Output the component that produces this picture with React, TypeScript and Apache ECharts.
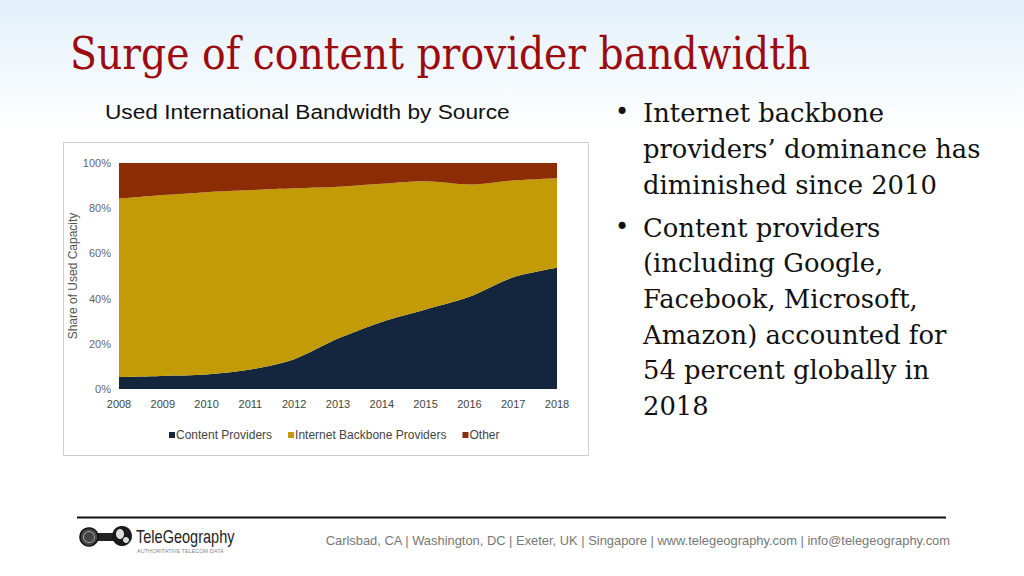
import React, { useEffect, useRef } from "react";
import * as echarts from "echarts";

const years = ["2008", "2009", "2010", "2011", "2012", "2013", "2014", "2015", "2016", "2017", "2018"];
const contentProviders = [5.3, 5.8, 6.4, 8.6, 13.2, 22.3, 29.7, 35.2, 40.8, 49.4, 53.6];
const backboneProviders = [78.9, 80.0, 80.7, 79.4, 75.6, 67.2, 61.1, 56.7, 49.7, 42.9, 39.7];
const otherSources = [15.8, 14.2, 12.9, 12.0, 11.2, 10.5, 9.2, 8.1, 9.5, 7.7, 6.7];
const yTicks = [0, 20, 40, 60, 80, 100];

const titleText = "Surge of content provider bandwidth";
const subtitleText = "Used International Bandwidth by Source";
const bullet1 = ["Internet backbone", "providers\u2019 dominance has", "diminished since 2010"];
const bullet2 = ["Content providers", "(including Google,", "Facebook, Microsoft,", "Amazon) accounted for", "54 percent globally in", "2018"];
const footerText = "Carlsbad, CA | Washington, DC | Exeter, UK | Singapore | www.telegeography.com | info@telegeography.com";

const SERIF = "'DejaVu Serif', Georgia, 'Liberation Serif', serif";
const SANS = "'Liberation Sans', Arial, Helvetica, sans-serif";

const txt = (x: number, y: number, text: string, font: string, fill: string, align = "left", vAlign = "middle", extra: any = {}) => ({
  type: "text",
  x,
  y,
  originX: 0,
  originY: 0,
  ...extra,
  style: {
    text,
    font,
    fill,
    align,
    verticalAlign: vAlign,
    textAlign: align,
    textVerticalAlign: vAlign,
    ...(extra.style || {}),
  },
});

export default function App() {
  const ref = useRef<HTMLDivElement>(null);
  useEffect(() => {
    if (!ref.current) return;
    const chart = echarts.init(ref.current, null, { renderer: "svg" });
    const areaSeries = (name: string, data: number[], color: string) => ({
      name,
      type: "line",
      stack: "total",
      data,
      smooth: 0.3,
      symbol: "none",
      lineStyle: { width: 0 },
      areaStyle: { color, opacity: 1 },
      itemStyle: { color },
    });
    chart.setOption({
      animation: false,
      backgroundColor: "#ffffff",
      grid: { left: 119, right: 467, top: 163, bottom: 187, containLabel: false },
      legend: {
        bottom: 130,
        left: 164,
        itemWidth: 6,
        itemHeight: 6,
        itemGap: 16,
        icon: "rect",
        textStyle: { fontFamily: SANS, fontSize: 12, color: "#444", padding: [0, 0, 0, -4] },
        data: ["Content Providers", "Internet Backbone Providers", "Other"],
      },
      xAxis: {
        type: "category",
        data: years,
        boundaryGap: false,
        axisLine: { show: false },
        axisTick: { show: false },
        axisLabel: { fontFamily: SANS, fontSize: 11, color: "#444", margin: 9 },
      },
      yAxis: {
        type: "value",
        min: 0,
        max: 100,
        interval: 20,
        name: "Share of Used Capacity",
        nameLocation: "middle",
        nameGap: 40,
        nameTextStyle: { fontFamily: SANS, fontSize: 12, color: "#555" },
        axisLine: { show: false },
        axisTick: { show: false },
        splitLine: { show: false },
        axisLabel: {
          fontFamily: SANS,
          fontSize: 11,
          color: "#666",
          margin: 8,
          formatter: (v: number) => (yTicks.includes(v) ? v + "%" : ""),
        },
      },
      series: [
        areaSeries("Content Providers", contentProviders, "#14263d"),
        areaSeries("Internet Backbone Providers", backboneProviders, "#c29b06"),
        areaSeries("Other", otherSources, "#8b2c04"),
      ],
      graphic: [
        {
          type: "rect",
          z: -10,
          silent: true,
          shape: { x: 0, y: 0, width: 1024, height: 130 },
          style: {
            fill: new echarts.graphic.LinearGradient(0, 0, 0, 1, [
              { offset: 0, color: "#e2f0fa" },
              { offset: 1, color: "#ffffff" },
            ]),
          },
        },
        {
          type: "rect",
          z: -5,
          silent: true,
          shape: { x: 63.5, y: 142.5, width: 525, height: 313 },
          style: { fill: "#ffffff", stroke: "#cccccc", lineWidth: 1 },
        },
        txt(70, 76, titleText, "normal 44px " + SERIF, "#9c0b0f", "left", "bottom", { scaleX: 0.894 }),
        txt(105, 122, subtitleText, "normal 20px " + SANS, "#111", "left", "bottom", { scaleX: 1.134 }),
        txt(615, 112, "\u2022", "normal 24px 'DejaVu Sans', sans-serif", "#111"),
        txt(615, 227, "\u2022", "normal 24px 'DejaVu Sans', sans-serif", "#111"),
        {
          type: "text",
          x: 643,
          y: 95,
          style: {
            text: bullet1.join("\n"),
            font: "normal 25.8px " + SERIF,
            lineHeight: 36,
            fill: "#111",
            align: "left",
            verticalAlign: "top",
            textAlign: "left",
            textVerticalAlign: "top",
          },
        },
        {
          type: "text",
          x: 643,
          y: 210,
          style: {
            text: bullet2.join("\n"),
            font: "normal 25.8px " + SERIF,
            lineHeight: 35.6,
            fill: "#111",
            align: "left",
            verticalAlign: "top",
            textAlign: "left",
            textVerticalAlign: "top",
          },
        },
        {
          type: "line",
          shape: { x1: 77, y1: 517.5, x2: 946, y2: 517.5 },
          style: { stroke: "#111", lineWidth: 2 },
        },
        txt(950, 540, footerText, "normal 12.9px " + SANS, "#777", "right"),
        // logo
        { type: "rect", shape: { x: 90, y: 533, width: 26, height: 8 }, style: { fill: "#222" } },
        { type: "circle", shape: { cx: 89, cy: 537, r: 9 }, style: { fill: "#444", stroke: "#111", lineWidth: 1.5 } },
        { type: "circle", shape: { cx: 89, cy: 537, r: 5.5 }, style: { fill: "none", stroke: "#bbb", lineWidth: 0.8 } },
        { type: "circle", shape: { cx: 122, cy: 536, r: 10 }, style: { fill: "#1a1a1a" } },
        { type: "ellipse", shape: { cx: 120, cy: 534, rx: 4, ry: 5 }, style: { fill: "#ddd" } },
        { type: "ellipse", shape: { cx: 126, cy: 540, rx: 3, ry: 3 }, style: { fill: "#ddd" } },
        txt(136, 536, "TeleGeography", "normal 17.5px " + SANS, "#222", "left", "middle", { scaleX: 0.83 }),
        txt(137, 551, "AUTHORITATIVE TELECOM DATA", "normal 5.5px " + SANS, "#888"),
      ],
    });
    return () => chart.dispose();
  }, []);
  return <div ref={ref} style={{ position: "absolute", left: 0, top: 0, width: 1024, height: 576 }} />;
}
